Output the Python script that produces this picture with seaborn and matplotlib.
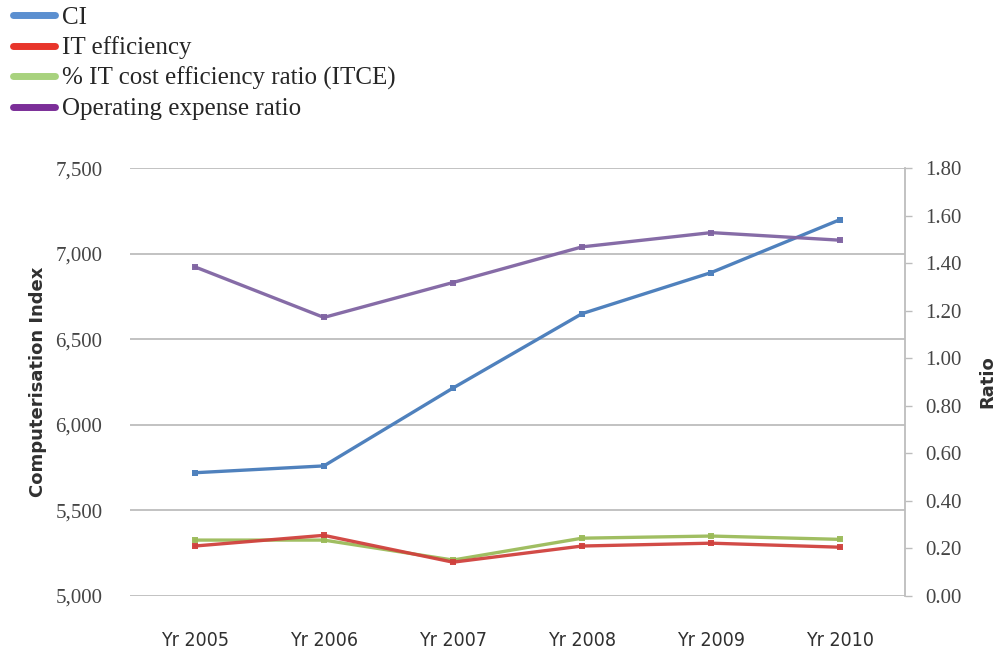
import matplotlib
matplotlib.use("Agg")
import matplotlib.pyplot as plt
from matplotlib.lines import Line2D
from matplotlib.ticker import FuncFormatter, MultipleLocator
import numpy as np
import pandas as pd
import seaborn as sns

years = ["Yr 2005", "Yr 2006", "Yr 2007", "Yr 2008", "Yr 2009", "Yr 2010"]
ci = [5720, 5760, 6215, 6650, 6890, 7200]
it_efficiency = [0.21, 0.255, 0.142, 0.21, 0.222, 0.205]
itce = [0.235, 0.235, 0.151, 0.243, 0.252, 0.238]
opex_ratio = [1.385, 1.172, 1.319, 1.469, 1.529, 1.497]

series_names = ["CI", "IT efficiency", "% IT cost efficiency ratio (ITCE)",
                "Operating expense ratio"]
line_colors = ["#4F81BD", "#D0413D", "#9BBB59", "#8064A2"]
legend_colors = ["#5B8FD0", "#E8352B", "#A8D27E", "#7B2E98"]

sns.set_style("white")
fig = plt.figure(figsize=(10.02, 6.52), dpi=100)
ax = fig.add_axes([0.13, 0.086, 0.773, 0.656])
ax2 = ax.twinx()

x = np.arange(len(years))
df_left = pd.DataFrame({"x": x, "v": ci})
sns.lineplot(data=df_left, x="x", y="v", ax=ax, color=line_colors[0],
             lw=2.4, marker="s", markersize=5, markeredgewidth=0, zorder=5)

for vals, col in zip([itce, it_efficiency, opex_ratio],
                     [line_colors[2], line_colors[1], line_colors[3]]):
    d = pd.DataFrame({"x": x, "v": vals})
    sns.lineplot(data=d, x="x", y="v", ax=ax2, color=col, lw=2.4,
                 marker="s", markersize=5, markeredgewidth=0, alpha=0.95)

# left axis
ax.set_xlim(-0.5, 5.5)
ax.set_ylim(5000, 7500)
ax.yaxis.set_major_locator(MultipleLocator(500))
ax.yaxis.set_major_formatter(FuncFormatter(lambda v, p: f"{int(v):,}"))
ax.grid(axis="y", color="#bdbdbd", lw=1.3)
ax.grid(axis="x", visible=False)
for s in ["left", "top", "right", "bottom"]:
    ax.spines[s].set_visible(False)
ax.tick_params(axis="y", length=0, pad=20, labelsize=15, colors="#454545")
ax.tick_params(axis="x", length=0, pad=25, labelsize=14, colors="#303030")
ax.set_xticks(x)
ax.set_xticklabels(years, fontfamily="DejaVu Sans", fontstretch="condensed")
for lbl in ax.get_yticklabels():
    lbl.set_fontfamily("Liberation Serif")
ax.set_xlabel("")
ax.set_ylabel("Computerisation Index", fontsize=13, fontweight="bold",
              color="#303030", labelpad=6)

# right axis
ax2.set_ylim(0, 1.8)
ax2.yaxis.set_major_locator(MultipleLocator(0.2))
ax2.yaxis.set_major_formatter(FuncFormatter(lambda v, p: f"{v:.2f}"))
for s in ["left", "top", "bottom"]:
    ax2.spines[s].set_visible(False)
ax2.spines["right"].set_color("#bdbdbd")
ax2.spines["right"].set_linewidth(1.3)
ax2.tick_params(axis="y", length=5, width=1, pad=10,
                labelsize=15, colors="#454545")
ax2.tick_params(axis="y", color="#bdbdbd")
for lbl in ax2.get_yticklabels():
    lbl.set_fontfamily("Liberation Serif")
ax2.grid(False)
ax2.set_ylabel("Ratio", fontsize=13, fontweight="bold", color="#303030",
               labelpad=12)

# legend in the top-left corner
handles = [Line2D([0], [0], color=c, lw=5) for c in legend_colors]
fig.legend(handles, series_names, loc="upper left", bbox_to_anchor=(-0.004, 1.017),
           frameon=False, prop={"family": "Liberation Serif", "size": 18},
           handlelength=1.65, handletextpad=0.3, labelspacing=0.3,
           borderaxespad=0.3)

fig.savefig("out.png", dpi=100)
